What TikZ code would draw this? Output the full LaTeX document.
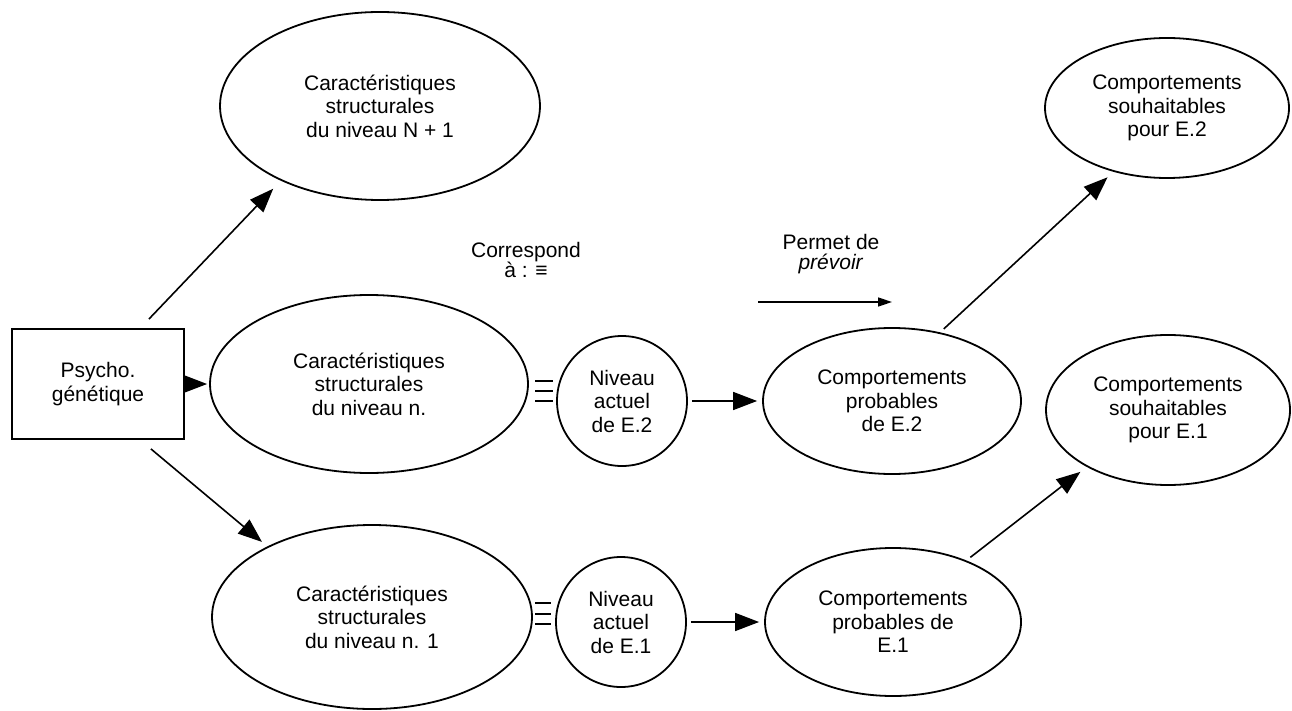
\documentclass[tikz,border=0pt]{standalone}
\usepackage{fontspec}
\setmainfont{Liberation Sans}
\usetikzlibrary{shapes.geometric,arrows.meta,calc}
\begin{document}
\begin{tikzpicture}[x=1pt,y=-1pt,
  every node/.style={font=\fontsize{21}{23.5}\selectfont, align=center, inner sep=0pt},
  oval/.style={draw, ellipse, line width=1.8pt},
  ring/.style={draw, circle, line width=1.8pt, minimum size=130pt},
  frame/.style={draw, rectangle, line width=1.8pt, minimum width=172pt, minimum height=110pt},
  bigarrow/.style={line width=1.6pt, -{Triangle[length=24pt,width=18pt]}},
  thinarrow/.style={line width=1.6pt, -{Triangle[length=14pt,width=9pt]}},
  eqline/.style={line width=1.6pt},
  caption/.style={font=\fontsize{21}{20}\selectfont}
]
\useasboundingbox (0,0) rectangle (1292,711);

% source box
\node[frame] (psy) at (98,384) {Psycho.\\génétique};

% structural levels
\node[oval, minimum width=320pt, minimum height=188pt] (nplus) at (380,106)
  {Caractéristiques\\structurales\\du niveau N + 1};
\node[oval, minimum width=318pt, minimum height=178pt] (nn) at (369,384)
  {Caractéristiques\\structurales\\du niveau n.};
\node[oval, minimum width=320pt, minimum height=184pt] (nn1) at (372,617)
  {Caractéristiques\\structurales\\du niveau n. 1};

% current levels of the pupils
\node[ring] (e2) at (622,401) {Niveau\\actuel\\de E.2};
\node[ring] (e1) at (621,622) {Niveau\\actuel\\de E.1};

% expected behaviours
\node[oval, minimum width=258pt, minimum height=146pt] (prob2) at (892,401)
  {Comportements\\probables\\de E.2};
\node[oval, minimum width=256pt, minimum height=148pt] (prob1) at (893,622)
  {Comportements\\probables de\\E.1};

% desirable behaviours
\node[oval, minimum width=244pt, minimum height=140pt] (souh2) at (1167,108)
  {Comportements\\souhaitables\\pour E.2};
\node[oval, minimum width=244pt, minimum height=150pt] (souh1) at (1168,410)
  {Comportements\\souhaitables\\pour E.1};

% legend
\node[caption] (corr) at (526,260) {Correspond\\à : ≡};
\node[caption] (perm) at (831,254) {Permet de\\\textit{prévoir}};
\coordinate (pa) at (758,302);
\coordinate (pb) at (892,302);
\draw[thinarrow] (pa) -- (pb);

% arrows from the box
\coordinate (upstart) at ($(psy.north east)+(-36,-9)$);
\coordinate (downstart) at ($(psy.south east)+(-34,9)$);
\draw[bigarrow, shorten >=11pt] (upstart) -- (nplus.217);
\draw[bigarrow, shorten >=2pt] (psy.east) -- (nn.west);
\draw[bigarrow, shorten >=7pt] (downstart) -- (nn1.146);

% "corresponds to" marks
\foreach \d in {-20,-10,0}
  \draw[eqline] ($(e2.west)+(-21,\d)$) -- ++(18,0);
\foreach \d in {-19,-8,2}
  \draw[eqline] ($(e1.west)+(-20,\d)$) -- ++(16,0);

% predictions
\draw[bigarrow, shorten <=4pt, shorten >=5pt] (e2.east) -- (prob2.west);
\draw[bigarrow, shorten <=4pt, shorten >=5pt] (e1.east) -- (prob1.west);
\draw[bigarrow, shorten <=5pt, shorten >=8pt] (prob2.55) -- (souh2.230);
\draw[bigarrow, shorten <=5pt, shorten >=8pt] (prob1.40) -- (souh1.215);
\end{tikzpicture}
\end{document}
